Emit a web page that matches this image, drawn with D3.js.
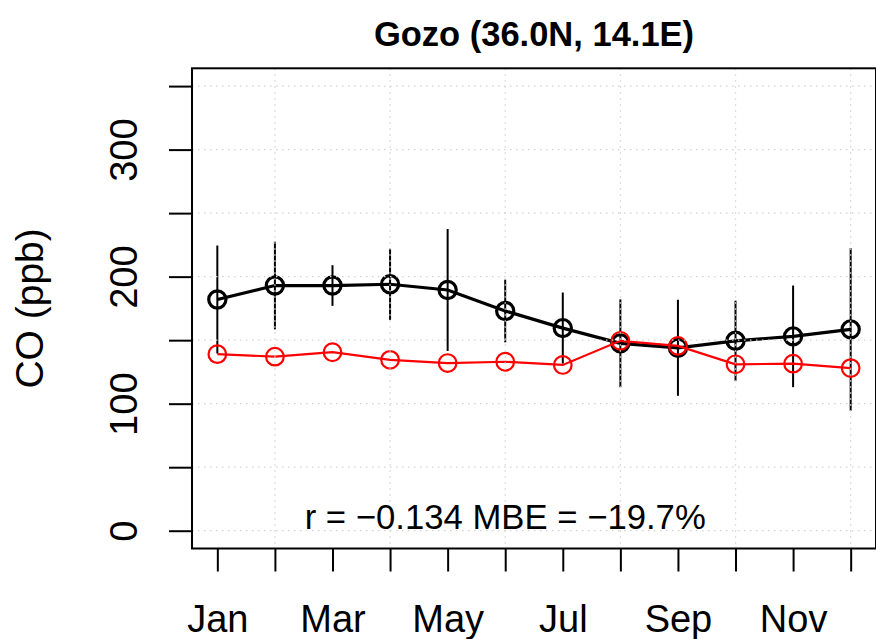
<!DOCTYPE html>
<html>
<head>
<meta charset="utf-8">
<script src="https://cdn.jsdelivr.net/npm/d3@7"></script>
<style>
  body { margin: 0; background: #fff; }
  svg { display: block; font-family: "Liberation Sans", Arial, sans-serif; }
</style>
</head>
<body>
<div id="chart"></div>
<script>
const months = [1, 2, 3, 4, 5, 6, 7, 8, 9, 10, 11, 12];
const monthLabels = ["Jan", "Feb", "Mar", "Apr", "May", "Jun", "Jul", "Aug", "Sep", "Oct", "Nov", "Dec"];
const obsMean = [182, 193, 193, 194, 189.5, 173, 159.5, 147.5, 144, 149.5, 153, 158.5];
const obsSd = [42.5, 34.5, 16, 28, 48, 24.7, 28, 34.6, 37.8, 31.6, 40, 64];
const modelMean = [139, 137, 140.5, 134.5, 132, 133, 130.5, 149.5, 145.5, 131, 131.5, 128];
const yTicks = [0, 50, 100, 150, 200, 250, 300, 350];
const title = "Gozo (36.0N, 14.1E)";
const statsText = "r = \u22120.134 MBE = \u221219.7%";

const w = 876, h = 639;
const box = { left: 192, right: 876, top: 68.3, bottom: 548.5 };

const svg = d3.select("#chart").append("svg")
  .attr("width", w)
  .attr("height", h);

// R style: 4% padding round the data range
const x = d3.scaleLinear().domain([0.56, 12.44]).range([box.left, box.right]);
const y = d3.scaleLinear().domain([-14, 364]).range([box.bottom, box.top]);

// error bars (obs +- sd)
svg.append("g")
  .selectAll("line")
  .data(months)
  .join("line")
  .attr("x1", (d) => x(d))
  .attr("x2", (d) => x(d))
  .attr("y1", (d, i) => y(obsMean[i] - obsSd[i]))
  .attr("y2", (d, i) => y(obsMean[i] + obsSd[i]))
  .attr("stroke", "#000")
  .attr("stroke-width", 2);

const line = d3.line().x((d) => x(d[0])).y((d) => y(d[1]));

const obsPts = months.map((m, i) => [m, obsMean[i]]);
const modPts = months.map((m, i) => [m, modelMean[i]]);

svg.append("path")
  .attr("d", line(obsPts))
  .attr("fill", "none")
  .attr("stroke", "#000")
  .attr("stroke-width", 3.2);

svg.append("g")
  .selectAll("circle")
  .data(obsPts)
  .join("circle")
  .attr("cx", (d) => x(d[0]))
  .attr("cy", (d) => y(d[1]))
  .attr("r", 8.6)
  .attr("fill", "none")
  .attr("stroke", "#000")
  .attr("stroke-width", 3.2);

svg.append("path")
  .attr("d", line(modPts))
  .attr("fill", "none")
  .attr("stroke", "#ff0000")
  .attr("stroke-width", 2.2);

svg.append("g")
  .selectAll("circle")
  .data(modPts)
  .join("circle")
  .attr("cx", (d) => x(d[0]))
  .attr("cy", (d) => y(d[1]))
  .attr("r", 8.8)
  .attr("fill", "none")
  .attr("stroke", "#ff0000")
  .attr("stroke-width", 2.2);

// grid on top, like grid() called after plotting
const grid = svg.append("g")
  .attr("stroke", "#d3d3d3")
  .attr("stroke-width", 1.3)
  .attr("stroke-dasharray", "1.5,4.5");
grid.selectAll("line.v")
  .data(months.filter((m) => m % 2 === 0))
  .join("line")
  .attr("class", "v")
  .attr("x1", (d) => x(d)).attr("x2", (d) => x(d))
  .attr("y1", box.top).attr("y2", box.bottom);
grid.selectAll("line.h")
  .data(yTicks)
  .join("line")
  .attr("class", "h")
  .attr("x1", box.left).attr("x2", box.right)
  .attr("y1", (d) => y(d)).attr("y2", (d) => y(d));

// box
svg.append("rect")
  .attr("x", box.left)
  .attr("y", box.top)
  .attr("width", box.right - box.left)
  .attr("height", box.bottom - box.top)
  .attr("fill", "none")
  .attr("stroke", "#000")
  .attr("stroke-width", 2);

// axes
const yAxis = svg.append("g")
  .attr("transform", `translate(${box.left},0)`)
  .call(
    d3.axisLeft(y)
      .tickValues(yTicks)
      .tickSize(23)
      .tickFormat((d) => (d % 100 === 0 ? d : ""))
  );
yAxis.select(".domain").remove();
yAxis.selectAll(".tick line").attr("stroke", "#000").attr("stroke-width", 2);
yAxis.selectAll(".tick text")
  .attr("x", 0)
  .attr("y", -55)
  .attr("dy", null)
  .attr("transform", "rotate(-90)")
  .attr("text-anchor", "middle")
  .attr("font-size", 38)
  .attr("fill", "#000");

const xAxis = svg.append("g")
  .attr("transform", `translate(0,${box.bottom})`)
  .call(
    d3.axisBottom(x)
      .tickValues(months)
      .tickSize(23)
      .tickFormat((d, i) => (i % 2 === 0 ? monthLabels[i] : ""))
  );
xAxis.select(".domain").remove();
xAxis.selectAll(".tick line").attr("stroke", "#000").attr("stroke-width", 2);
xAxis.selectAll(".tick text")
  .attr("y", 83)
  .attr("dy", null)
  .attr("font-size", 38)
  .attr("fill", "#000");

// texts
svg.append("text")
  .attr("x", (box.left + box.right) / 2)
  .attr("y", 46)
  .attr("text-anchor", "middle")
  .attr("font-size", 34.5)
  .attr("font-weight", "bold")
  .text(title);

svg.append("text")
  .attr("transform", `translate(43,${(box.top + box.bottom) / 2}) rotate(-90)`)
  .attr("text-anchor", "middle")
  .attr("font-size", 39)
  .text("CO (ppb)");

svg.append("text")
  .attr("x", x(6))
  .attr("y", 528.5)
  .attr("text-anchor", "middle")
  .attr("font-size", 34.7)
  .text(statsText);
</script>
</body>
</html>
